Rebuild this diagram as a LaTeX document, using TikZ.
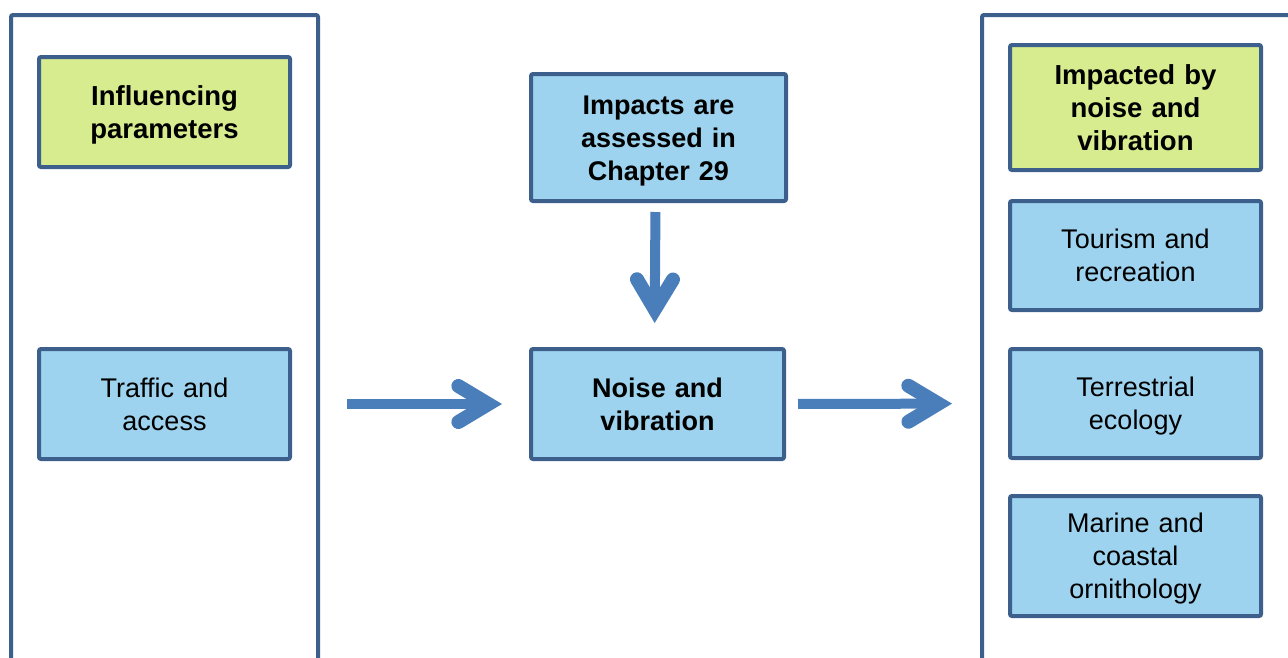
\documentclass[tikz,border=0pt]{standalone}
\usepackage{fontspec}
\setmainfont{Liberation Sans}
\usetikzlibrary{arrows.meta}
\definecolor{frameblue}{RGB}{60,95,140}
\definecolor{boxgreen}{RGB}{215,235,143}
\definecolor{boxblue}{RGB}{157,211,238}
\definecolor{arrowblue}{RGB}{74,126,187}
\tikzset{
  box/.style={draw=frameblue, line width=4pt, rounded corners=2pt, align=center,
    text width=230pt, inner sep=0pt, font=\fontsize{27pt}{33pt}\selectfont,
    execute at begin node={\rule{0pt}{28pt}},
    execute at end node={\rule[-9pt]{0pt}{9pt}}},
  headbox/.style={box, fill=boxgreen, font=\fontsize{27.5pt}{33pt}\selectfont\bfseries},
  itembox/.style={box, fill=boxblue},
  keybox/.style={itembox, font=\fontsize{27pt}{33pt}\selectfont\bfseries},
  frame/.style={draw=frameblue, line width=4pt, rounded corners=2pt},
  bigarrow/.style={draw=arrowblue, line width=10pt,
    -{Straight Barb[length=30pt, width=36pt, line width=14pt, line cap=round, line join=miter]}}
}
\begin{document}
\begin{tikzpicture}[x=1pt, y=-1pt]
  \useasboundingbox (0,0) rectangle (1288,657);
  \clip (0,0) rectangle (1288,657);
  % open frames around the two columns
  \draw[frame] (11,680) -- (11,15) -- (318,15) -- (318,680);
  \draw[frame] (982,680) -- (982,15) -- (1310,15);
  % left column
  \node[headbox, minimum width=251pt, minimum height=110pt] (infl) at (164.5,112) {Influencing\\parameters};
  \node[itembox, minimum width=251pt, minimum height=110pt] (traffic) at (164.5,404) {Traffic and\\access};
  % middle column
  \node[keybox, minimum width=255pt, minimum height=127pt] (chapter) at (658.5,137.5) {Impacts are\\assessed in\\Chapter 29};
  \node[keybox, minimum width=253pt, minimum height=110pt] (noise) at (657.5,404) {Noise and\\vibration};
  % right column
  \node[headbox, minimum width=251pt, minimum height=125pt] (impacted) at (1135.5,107.5) {Impacted by\\noise and\\vibration};
  \node[itembox, minimum width=251pt, minimum height=109pt] (tourism) at (1135.5,255.5) {Tourism and\\recreation};
  \node[itembox, minimum width=251pt, minimum height=109pt] (terrestrial) at (1135.5,403.5) {Terrestrial\\ecology};
  \node[itembox, minimum width=251pt, minimum height=120pt] (marine) at (1135.5,556) {Marine and\\coastal\\ornithology};
  % flow arrows
  \draw[bigarrow, shorten <=55pt, shorten >=27pt] (traffic.east) -- (noise.west);
  \draw[bigarrow, shorten <=12pt, shorten >=56pt] (noise.east) -- (terrestrial.west);
  \draw[bigarrow, shorten <=9pt, shorten >=24pt] ([xshift=-3pt]chapter.south) -- ([xshift=-3pt]noise.north);
\end{tikzpicture}
\end{document}
